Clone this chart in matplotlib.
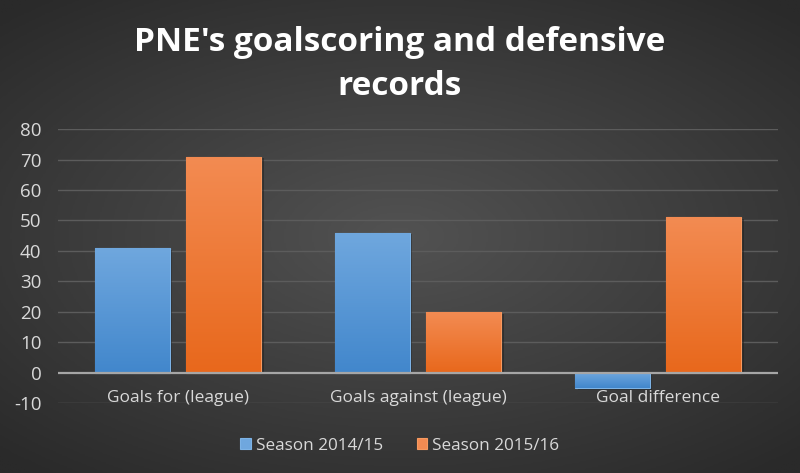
import numpy as np
import matplotlib
matplotlib.use("Agg")
import matplotlib.pyplot as plt
from matplotlib.colors import LinearSegmentedColormap

# dados
categorias = ["Goals for (league)", "Goals against (league)", "Goal difference"]
temporada_1415 = [41, 46, -5]
temporada_1516 = [71, 20, 51]
series = ["Season 2014/15", "Season 2015/16"]
yticks = [-10, 0, 10, 20, 30, 40, 50, 60, 70, 80]

plt.rcParams["font.family"] = ["Open Sans", "DejaVu Sans"]

fig = plt.figure(figsize=(8, 4.73), dpi=100)

# ------- fundo com gradiente radial -------
bg = fig.add_axes([0, 0, 1, 1])
yy, xx = np.mgrid[-1:1:300j, -1:1:500j]
r = np.sqrt((xx * 0.9) ** 2 + (yy * 1.0) ** 2)
bg_cmap = LinearSegmentedColormap.from_list("bg", ["#525252", "#3e3e3e", "#2a2a2a"])
bg.imshow(r, cmap=bg_cmap, vmin=0, vmax=1.3, aspect="auto", extent=[0, 1, 0, 1])
bg.set_axis_off()

ax = fig.add_axes([0.0725, 0.148, 0.9, 0.579])
ax.set_facecolor("none")

x = np.arange(len(categorias))
largura = 0.31
desloc = 0.19

cores = {
    "azul": ("#6fa7de", "#4287cc", "#7db3e6"),
    "laranja": ("#f38b52", "#e8681c", "#f79a60"),
}

def barras_gradiente(pos, valores, cor, label):
    topo, base, borda = cores[cor]
    cmap = LinearSegmentedColormap.from_list(cor, [base, topo])
    barras = ax.bar(pos, valores, largura, color=topo, edgecolor=borda,
                    linewidth=0.8, label=label, zorder=3)
    grad = np.linspace(0, 1, 100).reshape(-1, 1)
    for b in barras:
        x0, y0 = b.get_x(), b.get_y()
        w, h = b.get_width(), b.get_height()
        ylo, yhi = min(y0, y0 + h), max(y0, y0 + h)
        # sombra
        ax.bar(x0 + w / 2 + 0.012, h, w, bottom=y0 - 0.6, color="#1e1e1e",
               alpha=0.5, zorder=2, linewidth=0)
        im = ax.imshow(grad, cmap=cmap, aspect="auto", origin="lower",
                       extent=[x0, x0 + w, ylo, yhi], zorder=3.5)
        im.set_clip_path(b)
    return barras

barras_gradiente(x - desloc, temporada_1415, "azul", series[0])
barras_gradiente(x + desloc, temporada_1516, "laranja", series[1])

ax.set_xlim(-0.5, 2.5)
ax.set_ylim(-10, 80)
ax.set_yticks(yticks)
ax.set_yticklabels([str(t) for t in yticks], color="#d9d9d9", fontsize=13.5)
ax.set_xticks([])
for t in yticks:
    if t == 0:
        ax.axhline(0, color="#a6a6a6", linewidth=1.6, zorder=4)
    else:
        ax.axhline(t, color="#5c5c5c", linewidth=1.0, zorder=1)

for xi, nome in zip(x, categorias):
    ax.text(xi, -8.5, nome, ha="center", va="center", color="#d9d9d9",
            fontsize=12.5, zorder=5)

for s in ax.spines.values():
    s.set_visible(False)
ax.tick_params(axis="y", length=0, pad=12)

leg = fig.legend(loc="center", bbox_to_anchor=(0.5, 0.058), ncol=2, frameon=False,
                 fontsize=12.3, handlelength=0.6, handleheight=0.6,
                 handletextpad=0.3, columnspacing=2.0)
for t in leg.get_texts():
    t.set_color("#d9d9d9")

fig.text(0.5, 0.91, "PNE's goalscoring and defensive", ha="center", va="center",
         color="white", fontsize=24, fontweight="bold")
fig.text(0.5, 0.818, "records", ha="center", va="center",
         color="white", fontsize=24, fontweight="bold")

fig.savefig("out.png", dpi=100)
